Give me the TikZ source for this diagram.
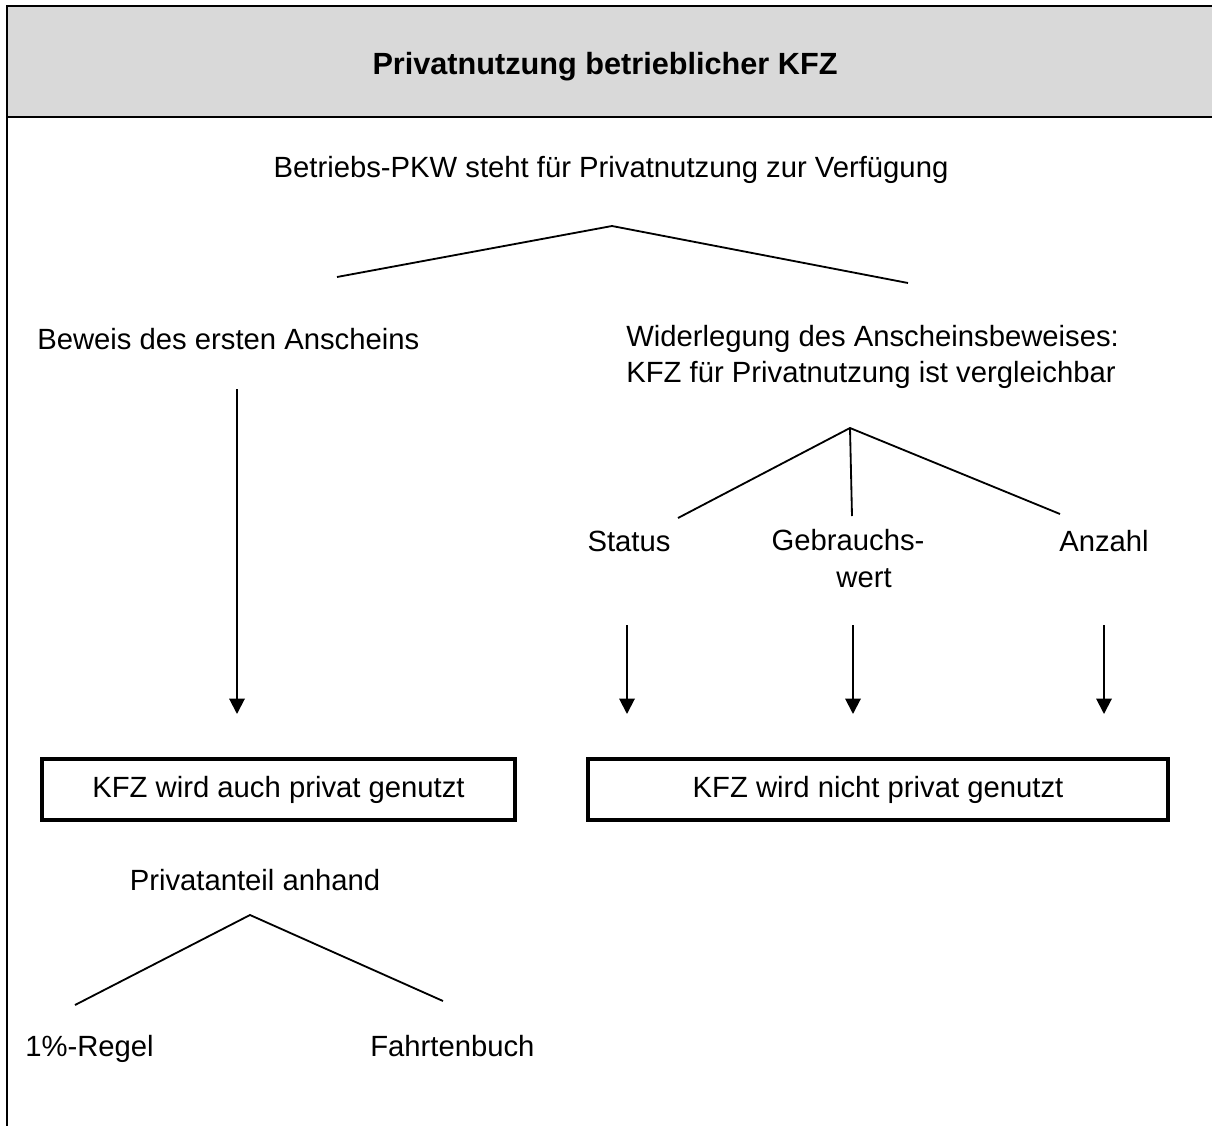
\documentclass[tikz,border=0pt]{standalone}
\usepackage{fontspec}
\setmainfont{Liberation Sans}
\usetikzlibrary{arrows.meta, positioning}
\definecolor{HeadGray}{RGB}{217,217,217}
\tikzset{
    txt/.style={inner sep=0pt, font=\fontsize{20.8}{26.2}\selectfont},
    headtxt/.style={inner sep=0pt, font=\fontsize{21.8}{26}\selectfont\bfseries},
    frameline/.style={line width=2pt, draw=black},
    branch/.style={line width=1.3pt, draw=black},
    result/.style={draw=black, line width=2.8pt, inner sep=0pt,
        minimum height=1.54cm, font=\fontsize{20.8}{25}\selectfont},
    arrow/.style={-{Triangle[length=11pt, width=11pt]}, line width=1.4pt, draw=black}
}

\begin{document}
\begin{tikzpicture}[x=0.025cm, y=-0.025cm]
    \useasboundingbox (0,0) rectangle (1212,1126);

    % Frame and header
    \fill[HeadGray] (7,6) rectangle (1216,117);
    \draw[frameline] (1216,6) -- (7,6) -- (7,1130);
    \draw[frameline] (7,117) -- (1216,117);
    \node[headtxt] (title) at (605,67) {Privatnutzung betrieblicher KFZ};

    % Texts
    \node[txt] (betrieb) at (611,170) {Betriebs-PKW steht für Privatnutzung zur Verfügung};
    \node[txt, anchor=west] (beweis) at (37,339) {Beweis des ersten Anscheins};
    \node[txt, anchor=west, align=left] (widerlegung) at (626,357)
        {Widerlegung des Anscheinsbeweises:\\KFZ für Privatnutzung ist vergleichbar};
    \node[txt, anchor=base] (status) at (629,551) {Status};
    \node[txt, align=center, anchor=base] (gebrauch) at (848,587) {Gebrauchs-\\\hspace*{1.1em}wert};
    \node[txt, anchor=base] (anzahl) at (1104,551) {Anzahl};
    \node[result, minimum width=11.83cm] (auch) at (278.5,789.5) {KFZ wird auch privat genutzt};
    \node[result, minimum width=14.5cm] (nicht) at (878,789.5) {KFZ wird nicht privat genutzt};
    \node[txt] (anteil) at (255,880) {Privatanteil anhand};
    \node[txt, anchor=base west] (regel) at (25,1056) {1\%-Regel};
    \node[txt, anchor=base west] (fahrten) at (370,1056) {Fahrtenbuch};

    % Branch points
    \coordinate (t0) at (612,226);
    \coordinate (t1) at (337,277);
    \coordinate (t2) at (908,283);
    \coordinate (m0) at (850,428);
    \coordinate (m1) at (678,518);
    \coordinate (m2) at (852,516);
    \coordinate (m3) at (1060,514);
    \coordinate (p0) at (250,915);
    \coordinate (p1) at (75,1005);
    \coordinate (p2) at (443,1001);

    % Branches
    \draw[branch] (t1) -- (t0) -- (t2);
    \draw[branch] (m1) -- (m0) -- (m3);
    \draw[branch] (m0) -- (m2);
    \draw[branch] (p1) -- (p0) -- (p2);

    % Arrows
    \coordinate (a0) at (237,389);
    \coordinate (a1) at (237,714);
    \coordinate (s0) at (627,625);
    \coordinate (s1) at (627,714);
    \coordinate (g0) at (853,625);
    \coordinate (g1) at (853,714);
    \coordinate (z0) at (1104,625);
    \coordinate (z1) at (1104,714);
    \draw[arrow] (a0) -- (a1);
    \draw[arrow] (s0) -- (s1);
    \draw[arrow] (g0) -- (g1);
    \draw[arrow] (z0) -- (z1);
\end{tikzpicture}
\end{document}
